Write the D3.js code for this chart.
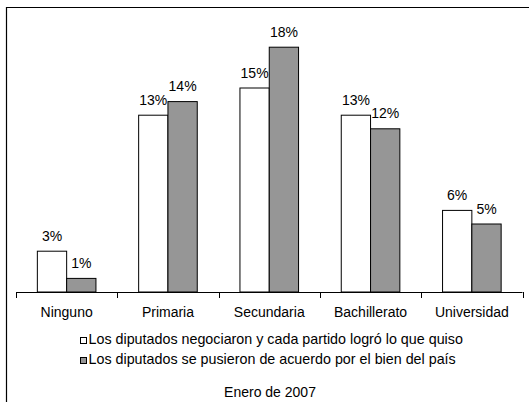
<!DOCTYPE html>
<html>
<head>
<meta charset="utf-8">
<script src="https://cdn.jsdelivr.net/npm/d3@7"></script>
<style>
  html, body { margin: 0; padding: 0; background: #fff; }
  svg text { font-family: "Liberation Sans", Arial, sans-serif; fill: #000; }
</style>
</head>
<body>
<svg id="chart" width="529" height="402"></svg>
<script>
const categories = ["Ninguno", "Primaria", "Secundaria", "Bachillerato", "Universidad"];
const seriesNames = [
  "Los diputados negociaron y cada partido logró lo que quiso",
  "Los diputados se pusieron de acuerdo por el bien del país"
];
const negociaron = [3, 13, 15, 13, 6];
const acuerdo = [1, 14, 18, 12, 5];
const seriesColors = ["#ffffff", "#969696"];
const footnote = "Enero de 2007";

const svg = d3.select("#chart");

// frame (cut off at right and bottom)
svg.append("path")
  .attr("d", "M6.5,402 L6.5,7.5 L529,7.5")
  .attr("fill", "none").attr("stroke", "#000").attr("stroke-width", 1.2);

const baseY = 292;
const x = d3.scaleBand().domain(categories).range([16, 522.5]).padding(0);
const y = d3.scaleLinear().domain([0, 20]).range([baseY, baseY - 272]);
const bw = x.bandwidth();
const xs = d3.scaleBand().domain([0, 1]).range([bw / 2 - 29.3, bw / 2 + 29.3]).padding(0);

const data = [];
categories.forEach((c, i) => {
  [negociaron, acuerdo].forEach((arr, s) => data.push({ c, s, v: arr[i] }));
});

const g = svg.append("g");
g.selectAll("rect.bar").data(data).enter().append("rect")
  .attr("class", "bar")
  .attr("x", d => x(d.c) + xs(d.s))
  .attr("y", d => y(d.v))
  .attr("width", xs.bandwidth())
  .attr("height", d => y(0) - y(d.v))
  .attr("fill", d => seriesColors[d.s])
  .attr("stroke", "#000").attr("stroke-width", 1);

g.selectAll("text.lbl").data(data).enter().append("text")
  .attr("class", "lbl")
  .attr("x", d => x(d.c) + xs(d.s) + xs.bandwidth() / 2)
  .attr("y", d => y(d.v) - 10.5)
  .attr("text-anchor", "middle")
  .attr("font-size", "14px")
  .text(d => d.v + "%");

// x axis
const axis = d3.axisBottom(x).tickSize(0).tickPadding(0);
const ax = svg.append("g").attr("transform", `translate(0,${baseY})`).call(axis);
ax.select(".domain").remove();
ax.selectAll("text").attr("font-size", "14px").attr("dy", null).attr("y", 25)
  .style("font-family", "'Liberation Sans', Arial, sans-serif");
svg.append("line").attr("x1", 16).attr("x2", 522.5).attr("y1", baseY + 0.5).attr("y2", baseY + 0.5)
  .attr("stroke", "#000");
const boundaries = categories.map(c => x(c)).concat([x(categories[categories.length - 1]) + bw]);
svg.selectAll("line.tick2").data(boundaries).enter().append("line")
  .attr("class", "tick2")
  .attr("x1", d => Math.round(d) + 0.5).attr("x2", d => Math.round(d) + 0.5)
  .attr("y1", baseY).attr("y2", baseY + 6).attr("stroke", "#000");

// legend
const leg = svg.append("g");
seriesNames.forEach((name, i) => {
  const base = 344 + i * 20;
  leg.append("rect").attr("x", 80.5).attr("y", base - 6.5).attr("width", 6).attr("height", 6)
    .attr("fill", seriesColors[i]).attr("stroke", "#000").attr("stroke-width", 1);
  leg.append("text").attr("x", 88.5).attr("y", base).attr("font-size", "14.3px").text(name);
});

svg.append("text").attr("x", 270).attr("y", 397).attr("text-anchor", "middle")
  .attr("font-size", "14px").text(footnote);
</script>
</body>
</html>
